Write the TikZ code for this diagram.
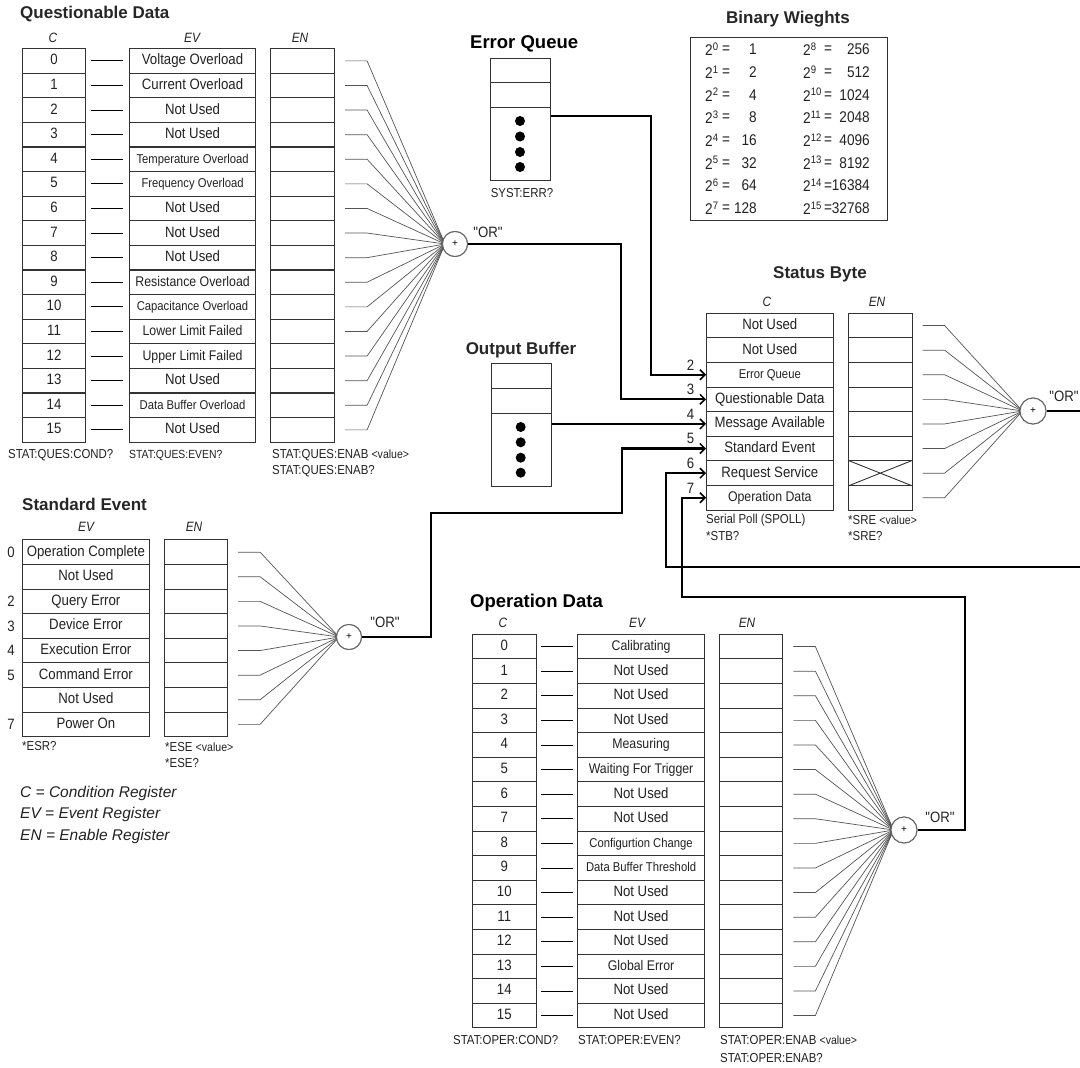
\documentclass[tikz,border=0pt]{standalone}
\usepackage{fontspec}
\usepackage{graphicx}
\setmainfont{Liberation Sans}
\newfontfamily\nar{Liberation Sans}[FakeStretch=0.88]
\usetikzlibrary{arrows.meta}
\definecolor{boxc}{HTML}{333333}
\definecolor{fanc}{HTML}{555555}
\definecolor{gatec}{HTML}{666666}
\definecolor{txt}{HTML}{222222}
\newcommand\fA{\nar\fontsize{15}{16}\selectfont}
\newcommand\fB{\nar\fontsize{14}{15}\selectfont}
\newcommand\fC{\nar\fontsize{12.8}{14}\selectfont}
\newcommand\fD{\nar\fontsize{13}{15}\selectfont}
\newcommand\fV{\nar\fontsize{12}{13}\selectfont}
\newcommand\fH{\nar\itshape\fontsize{13.5}{14}\selectfont}
\newcommand\fT{\fontsize{17}{19}\selectfont\bfseries}
\newcommand\fTT{\fontsize{18.5}{20}\selectfont\bfseries}
\newcommand\fBW{\nar\fontsize{15.5}{17}\selectfont}
\newcommand\fL{\itshape\fontsize{15.5}{17}\selectfont}
\begin{document}
\begin{tikzpicture}[x=1pt,y=-1pt,
  regcell/.style={draw=boxc,line width=1.1pt,anchor=north west,inner sep=0pt,minimum height=24.6pt,text height=10.5pt,text depth=2.5pt,text=txt},
  fanln/.style={draw=fanc,line width=0.7pt},
  ctick/.style={draw=black,line width=0.9pt},
  orgate/.style={circle,draw=gatec,line width=1pt,fill=white,minimum size=25pt,inner sep=0pt,font=\fontsize{10}{10}\selectfont},
  wire/.style={draw=black,line width=2.2pt},
  arr/.style={-{Straight Barb[length=5pt,width=10pt,line width=1.5pt]}},
  lbl/.style={inner sep=0pt,text=txt},
  ttl/.style={inner sep=0pt,text=black!85},
  dotf/.style={fill=black}]
\fill[white] (0,0) rectangle (1080,1068);
\useasboundingbox (0,0) rectangle (1080,1068);

% ---------------- gates ----------------
\node[orgate] (qor) at (455,244) {+};
\node[orgate,minimum size=26pt] (sbor) at (1033,411) {+};
\node[orgate] (seor) at (349,637) {+};
\node[orgate,minimum size=26pt] (odor) at (904,830) {+};

% ---------------- Questionable Data ----------------
\node[ttl,anchor=west] (qtitle) at (20,14) {\fT Questionable Data};
\node[lbl] (qhc) at (53,38) {\fH C};
\node[lbl] (qhv) at (192,38) {\fH EV};
\node[lbl] (qhn) at (300,38) {\fH EN};
\foreach \i/\t/\s in {0/Voltage Overload/A,1/Current Overload/A,2/Not Used/A,3/Not Used/A,4/Temperature Overload/C,5/Frequency Overload/C,6/Not Used/A,7/Not Used/A,8/Not Used/A,9/Resistance Overload/B,10/Capacitance Overload/C,11/Lower Limit Failed/B,12/Upper Limit Failed/B,13/Not Used/A,14/Data Buffer Overload/C,15/Not Used/A}{
  \node[regcell,minimum width=63pt] (qc\i) at (22,48+\i*24.6) {\fA\i};
  \node[regcell,minimum width=126pt] (qv\i) at (129,48+\i*24.6) {\csname f\s\endcsname\t};
  \node[regcell,minimum width=64pt] (qn\i) at (270,48+\i*24.6) {};
  \draw[ctick] ([xshift=5pt]qc\i.east) -- ([xshift=-6pt]qv\i.west);
  \draw[fanln] ([xshift=10pt]qn\i.east) -- ++(22,0) -- ([xshift=3pt]qor.west);
}
\node[lbl,anchor=west] (qcmd1) at (8,455) {\fD STAT:QUES:COND?};
\node[lbl,anchor=west] (qcmd2) at (129,455) {\nar\fontsize{11.8}{13}\selectfont STAT:QUES:EVEN?};
\node[lbl,anchor=west] (qcmd3) at (272,455) {\fD STAT:QUES:ENAB {\fV<value>}};
\node[lbl,anchor=west] (qcmd4) at (272,471) {\fD STAT:QUES:ENAB?};
\node[lbl] (qorl) at (488,232) {\fA "OR"};

% ---------------- Error Queue ----------------
\node[ttl,anchor=west,text=black] (eqt) at (470,44) {\fTT Error Queue};
\node[regcell,minimum width=60pt] (eq1) at (490,57.7) {};
\node[regcell,minimum width=60pt] (eq2) at (490,82.3) {};
\node[regcell,minimum width=60pt,minimum height=73pt] (eq3) at (490,106.9) {};
\foreach \y in {121,136.5,152,167}{\fill[dotf] (520,\y) circle (5);}
\node[lbl] (eqcmd) at (522,193) {\fD SYST:ERR?};

% ---------------- Binary Weights ----------------
\node[ttl] (bwt) at (788,19) {\fT Binary Wieghts};
\node[draw=boxc,line width=1.1pt,anchor=north west,minimum width=196.7pt,minimum height=183.6pt,inner sep=0pt] (bwbox) at (690,36.7) {};
\foreach \k/\v/\kk/\vv in {0/1/8/256,1/2/9/512,2/4/10/1024,3/8/11/2048,4/16/12/4096,5/32/13/8192,6/64/14/16384,7/128/15/32768}{
  \node[lbl,anchor=west] (bl\k) at (705,49.3+\k*22.7) {\fBW 2\textsuperscript{\k}};
  \node[lbl] (be\k) at (726,50+\k*22.7) {\fBW =};
  \node[lbl,anchor=east] (bv\k) at (757,49.3+\k*22.7) {\fBW\v};
  \node[lbl,anchor=west] (br\k) at (803,49.3+\k*22.7) {\fBW 2\textsuperscript{\kk}};
  \node[lbl] (bf\k) at (828,50+\k*22.7) {\fBW =};
  \node[lbl,anchor=east] (bw\k) at (870,49.3+\k*22.7) {\fBW\vv};
}

% ---------------- Status Byte ----------------
\node[ttl] (sbt) at (820,274) {\fT Status Byte};
\node[lbl] (shc) at (767,302) {\fH C};
\node[lbl] (shn) at (877,302) {\fH EN};
\foreach \i/\t/\s in {0/Not Used/A,1/Not Used/A,2/Error Queue/C,3/Questionable Data/A,4/Message Available/A,5/Standard Event/A,6/Request Service/A,7/Operation Data/B}{
  \node[regcell,minimum width=126.5pt] (sc\i) at (706,312.7+\i*24.6) {\csname f\s\endcsname\t};
  \node[regcell,minimum width=63.5pt] (sn\i) at (848,312.7+\i*24.6) {};
  \draw[fanln] ([xshift=10pt]sn\i.east) -- ++(22,0) -- ([xshift=3pt]sbor.west);
}
\draw[boxc,line width=0.9pt] (sn6.north west) -- (sn6.south east) (sn6.south west) -- (sn6.north east);
\foreach \i in {2,...,7}{
  \node[lbl] (sbn\i) at ([xshift=-15.5pt,yshift=-3pt]sc\i.north west) {\fA\i};
}
\node[lbl,anchor=west] (sbcmd1) at (706,520.5) {\fD Serial Poll (SPOLL)};
\node[lbl,anchor=west] (sbcmd2) at (706,536) {\fD *STB?};
\node[lbl,anchor=west] (sbcmd3) at (848,520.5) {\fD *SRE {\fV<value>}};
\node[lbl,anchor=west] (sbcmd4) at (848,536) {\fD *SRE?};
\node[lbl] (sborl) at (1064,396) {\fA "OR"};

% ---------------- Output Buffer ----------------
\node[ttl] (obt) at (521,350) {\fT Output Buffer};
\node[regcell,minimum width=60pt] (ob1) at (490.7,363.3) {};
\node[regcell,minimum width=60pt] (ob2) at (490.7,387.9) {};
\node[regcell,minimum width=60pt,minimum height=73.5pt] (ob3) at (490.7,412.5) {};
\foreach \y in {427,442.3,457.7,472.7}{\fill[dotf] (520.7,\y) circle (5);}

% ---------------- Standard Event ----------------
\node[ttl,anchor=west] (set) at (22,504) {\fT Standard Event};
\node[lbl] (sehv) at (86,527) {\fH EV};
\node[lbl] (sehn) at (194,527) {\fH EN};
\foreach \i/\t in {0/Operation Complete,1/Not Used,2/Query Error,3/Device Error,4/Execution Error,5/Command Error,6/Not Used,7/Power On}{
  \node[regcell,minimum width=126.7pt] (sev\i) at (22,539.3+\i*24.6) {\fA\t};
  \node[regcell,minimum width=63.3pt] (sen\i) at (163.7,539.3+\i*24.6) {};
  \draw[fanln] ([xshift=10pt]sen\i.east) -- ++(22,0) -- ([xshift=3pt]seor.west);
}
\foreach \i in {0,2,3,4,5,7}{
  \node[lbl] (senum\i) at ([xshift=-11pt]sev\i.west) {\fA\i};
}
\node[lbl,anchor=west] (secmd1) at (22,746.5) {\fD *ESR?};
\node[lbl,anchor=west] (secmd2) at (165,747) {\fD *ESE {\fV<value>}};
\node[lbl,anchor=west] (secmd3) at (165,763) {\fD *ESE?};
\node[lbl] (seorl) at (385,622) {\fA "OR"};

% legend
\node[lbl,anchor=west] (lg1) at (20,793) {\fL C = Condition Register};
\node[lbl,anchor=west] (lg2) at (20,814.7) {\fL EV = Event Register};
\node[lbl,anchor=west] (lg3) at (20,836) {\fL EN = Enable Register};

% ---------------- Operation Data ----------------
\node[ttl,anchor=west,text=black] (odt) at (470,603) {\fTT Operation Data};
\node[lbl] (ohc) at (503,623) {\fH C};
\node[lbl] (ohv) at (637,623) {\fH EV};
\node[lbl] (ohn) at (747,623) {\fH EN};
\foreach \i/\t/\s in {0/Calibrating/B,1/Not Used/A,2/Not Used/A,3/Not Used/A,4/Measuring/B,5/Waiting For Trigger/B,6/Not Used/A,7/Not Used/A,8/Configurtion Change/C,9/Data Buffer Threshold/C,10/Not Used/A,11/Not Used/A,12/Not Used/A,13/Global Error/B,14/Not Used/A,15/Not Used/A}{
  \node[regcell,minimum width=63.5pt] (oc\i) at (472,633.7+\i*24.6) {\fA\i};
  \node[regcell,minimum width=126.4pt] (ov\i) at (577.3,633.7+\i*24.6) {\csname f\s\endcsname\t};
  \node[regcell,minimum width=63.3pt] (on\i) at (719,633.7+\i*24.6) {};
  \draw[ctick] ([xshift=4.5pt]oc\i.east) -- ([xshift=-4.5pt]ov\i.west);
  \draw[fanln] ([xshift=10pt]on\i.east) -- ++(22,0) -- ([xshift=3pt]odor.west);
}
\node[lbl,anchor=west] (ocmd1) at (453,1040) {\fD STAT:OPER:COND?};
\node[lbl,anchor=west] (ocmd2) at (578,1040) {\fD STAT:OPER:EVEN?};
\node[lbl,anchor=west] (ocmd3) at (720,1040) {\fD STAT:OPER:ENAB {\fV<value>}};
\node[lbl,anchor=west] (ocmd4) at (720,1058) {\fD STAT:OPER:ENAB?};
\node[lbl] (odorl) at (940,817) {\fA "OR"};

% redraw gates on top
\node[orgate] at (qor) {+};
\node[orgate,minimum size=26pt] at (sbor) {+};
\node[orgate] at (seor) {+};
\node[orgate,minimum size=26pt] at (odor) {+};

% ---------------- connectors ----------------
\coordinate (sejog) at (431,513);
\coordinate (odjog) at (965,597);
\coordinate (rsin) at (1080,567);
\coordinate (sbout) at (1080,411);
\draw[wire,arr] ([yshift=-9pt]eq3.north east) -| ([xshift=-55pt]sc2.west) -- (sc2.west);
\draw[wire,arr] (qor.east) -| ([xshift=-85pt]sc3.west) -- (sc3.west);
\draw[wire,arr] (ob3.east |- sc4.west) -- (sc4.west);
\draw[wire,arr] (seor.east) -| (sejog) -| ([xshift=-84pt]sc5.west) -- (sc5.west);
\draw[wire,arr] (rsin) -| ([xshift=-40pt]sc6.west) -- (sc6.west);
\draw[wire,arr] (odor.east) -| (odjog) -| ([xshift=-24pt]sc7.west) -- (sc7.west);
\draw[wire] (sbor.east) -- (sbout);
\end{tikzpicture}
\end{document}
